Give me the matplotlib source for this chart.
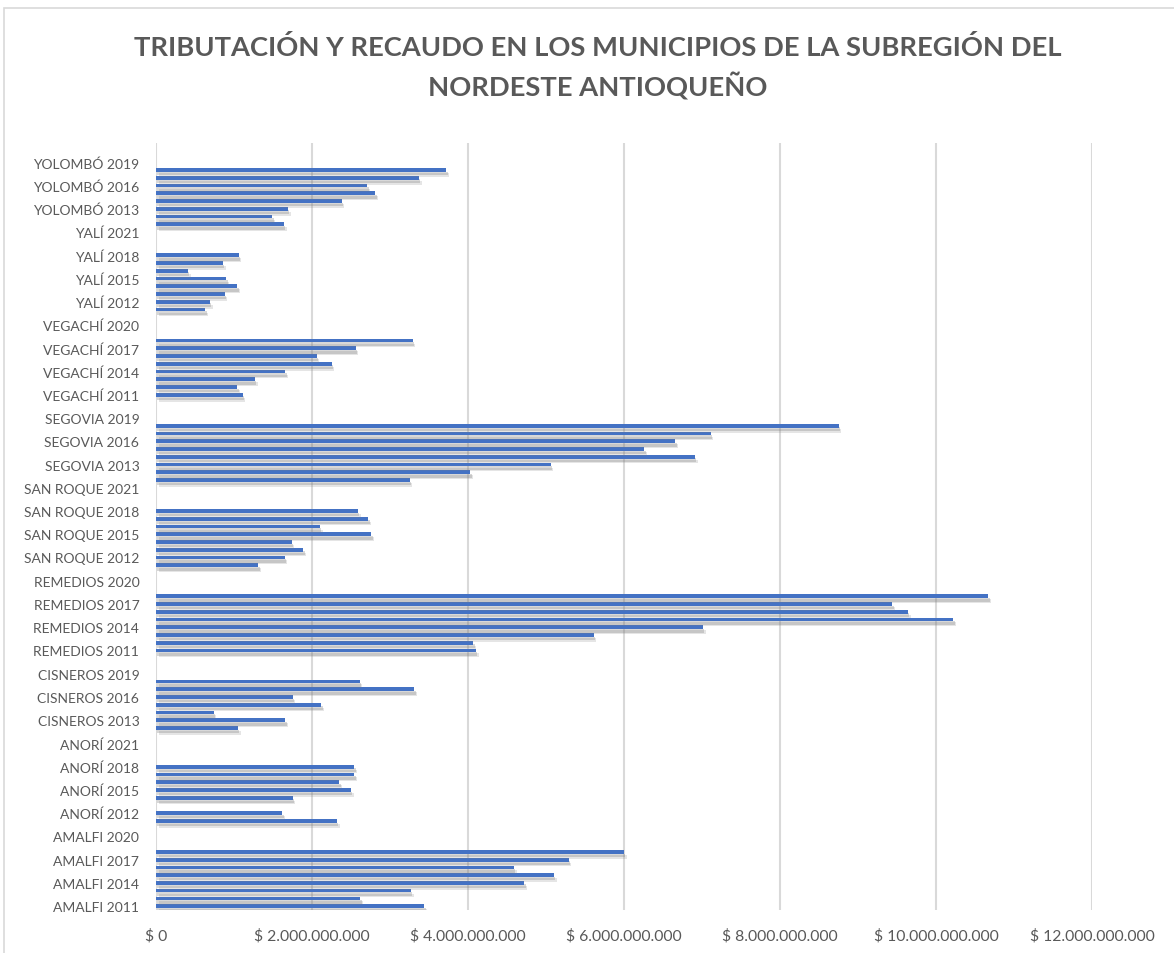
import matplotlib
matplotlib.use("Agg")
import matplotlib.pyplot as plt
import matplotlib.patheffects as pe
from matplotlib.patches import Rectangle
from matplotlib.ticker import FuncFormatter, MultipleLocator
import numpy as np

# Datos (valores en pesos)
municipios = ["AMALFI", "ANORÍ", "CISNEROS", "REMEDIOS", "SAN ROQUE",
              "SEGOVIA", "VEGACHÍ", "YALÍ", "YOLOMBÓ"]
anios = [2011, 2012, 2013, 2014, 2015, 2016, 2017, 2018, 2019, 2020, 2021]

# miles de millones, 2011 .. 2021
amalfi    = [3.44, 2.62, 3.27, 4.72, 5.10, 4.59, 5.29, 6.00, 0, 0, 0]
anori     = [2.32, 1.62, 0,    1.75, 2.50, 2.35, 2.54, 2.54, 0, 0, 0]
cisneros  = [0,    1.05, 1.66, 0.74, 2.12, 1.75, 3.31, 2.61, 0, 0, 0]
remedios  = [4.10, 4.07, 5.61, 7.01, 10.22, 9.64, 9.44, 10.67, 0, 0, 0]
san_roque = [1.31, 1.65, 1.89, 1.74, 2.76, 2.10, 2.72, 2.59, 0, 0, 0]
segovia   = [3.25, 4.03, 5.06, 6.91, 6.26, 6.66, 7.11, 8.75, 0, 0, 0]
vegachi   = [1.11, 1.04, 1.27, 1.66, 2.25, 2.06, 2.56, 3.29, 0, 0, 0]
yali      = [0.63, 0.69, 0.88, 1.04, 0.90, 0.41, 0.86, 1.06, 0, 0, 0]
yolombo   = [1.64, 1.49, 1.69, 2.38, 2.81, 2.71, 3.37, 3.72, 0, 0, 0]

series = [amalfi, anori, cisneros, remedios, san_roque,
          segovia, vegachi, yali, yolombo]

etiquetas = [f"{m} {a}" for m in municipios for a in anios]
valores = np.array([v for s in series for v in s]) * 1e9
pos = np.arange(len(etiquetas))

gris = "#595959"
fuente = "Lato"

fig = plt.figure(figsize=(11.74, 9.54), dpi=100)
ax = fig.add_axes([156 / 1174, 1 - 911 / 954, (1092 - 156) / 1174, (911 - 144) / 954])

# marco del area del grafico
fig.patches.append(Rectangle((4 / 1174, -0.02), 1.1, 0.02 + 945 / 954,
                             transform=fig.transFigure, fill=False,
                             edgecolor="#d9d9d9", linewidth=1.2))

ax.barh(pos, valores, height=0.48, color="#4472C4", zorder=3,
        path_effects=[pe.SimplePatchShadow(offset=(1, -2.5), shadow_rgbFace="#808080", alpha=0.3),
                      pe.SimplePatchShadow(offset=(2, -3.5), shadow_rgbFace="#808080", alpha=0.2),
                      pe.Normal()])

ax.set_xlim(0, 12e9)
ax.set_ylim(-0.5, len(etiquetas) - 0.5)
ax.xaxis.set_major_locator(MultipleLocator(2e9))
ax.xaxis.set_major_formatter(FuncFormatter(lambda v, p: "$ " + f"{int(round(v)):,}".replace(",", ".")))
ax.set_yticks(pos[::3])
ax.set_yticklabels(etiquetas[::3])

ax.grid(axis="x", color="#d9d9d9", linewidth=1.5, zorder=0)
for s in ax.spines.values():
    s.set_visible(False)
ax.tick_params(axis="both", length=0, colors=gris)
ax.tick_params(axis="y", pad=12, labelsize=10)
ax.tick_params(axis="x", pad=13, labelsize=11.3)
for t in ax.get_xticklabels() + ax.get_yticklabels():
    t.set_fontfamily(fuente)

fig.text(0.509, 1 - 68 / 954,
         "TRIBUTACIÓN Y RECAUDO EN LOS MUNICIPIOS DE LA SUBREGIÓN DEL\nNORDESTE ANTIOQUEÑO",
         ha="center", va="center", fontsize=19.7, fontweight="bold", color=gris,
         fontfamily=fuente, linespacing=1.5)

fig.savefig("out.png", dpi=100, facecolor="white")
